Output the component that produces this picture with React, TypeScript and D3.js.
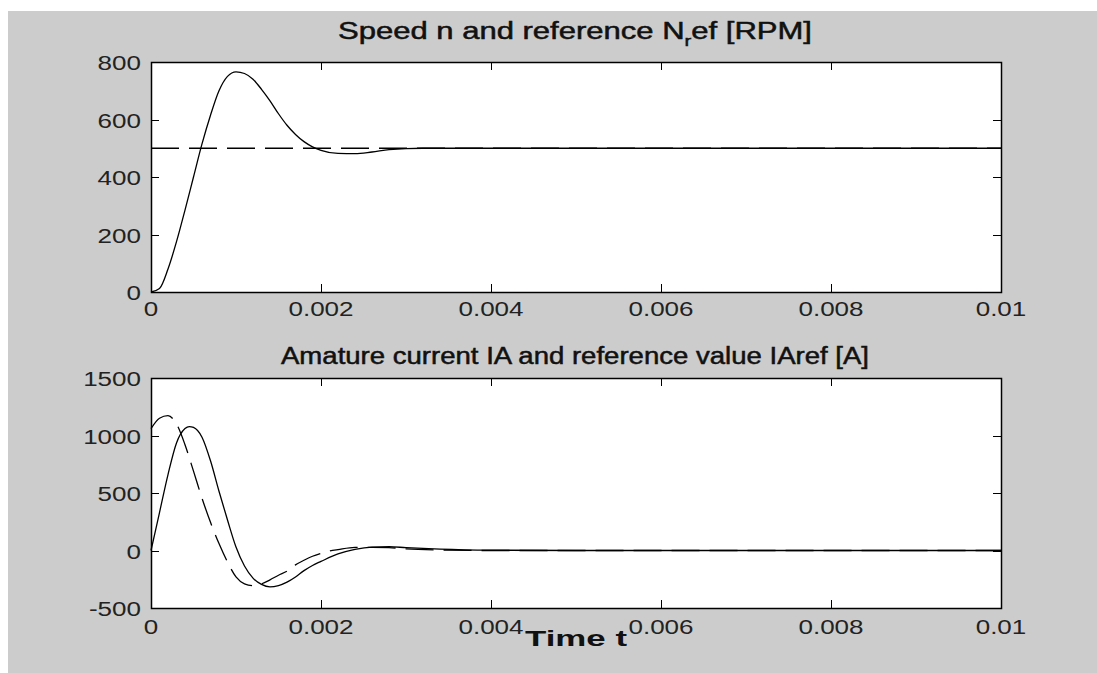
import React, { useEffect, useRef } from 'react';
import * as d3 from 'd3';

// time axis values are read in milliseconds, converted to seconds when drawn
const speedTimeMs = [0, 0.1, 0.2, 0.3, 0.4, 0.5, 0.6, 0.7, 0.8, 0.9, 1.0, 1.1, 1.2, 1.3, 1.4, 1.5, 1.6, 1.7, 1.8, 1.9, 2.0, 2.2, 2.4, 2.6, 2.8, 3.0, 3.2, 4.0, 6.0, 8.0, 10.0];
const speedValues = [0, 12, 80, 175, 285, 400, 515, 615, 700, 750, 766, 760, 740, 705, 665, 620, 580, 548, 523, 505, 493, 482, 481, 487, 495, 499, 500, 500, 500, 500, 500];
const speedRefTimeMs = [0, 10];
const speedRefValues = [500, 500];

const currentTimeMs = [0, 0.1, 0.2, 0.3, 0.4, 0.45, 0.5, 0.6, 0.7, 0.8, 0.9, 1.0, 1.1, 1.2, 1.3, 1.4, 1.5, 1.6, 1.7, 1.8, 1.9, 2.0, 2.2, 2.4, 2.6, 2.8, 3.0, 3.4, 4.0, 5.0, 10.0];
const currentValues = [0, 330, 660, 935, 1060, 1078, 1070, 985, 780, 515, 265, 30, -135, -240, -295, -317, -305, -275, -230, -175, -130, -95, -30, 10, 30, 33, 25, 12, 3, 0, 0];
const currentRefTimeMs = [0, 0.1, 0.2, 0.3, 0.4, 0.5, 0.6, 0.7, 0.8, 0.9, 1.0, 1.1, 1.2, 1.3, 1.4, 1.5, 1.6, 1.7, 1.8, 1.9, 2.0, 2.1, 2.2, 2.4, 2.6, 2.8, 3.0, 3.4, 4.0, 10.0];
const currentRefValues = [1060, 1150, 1172, 1100, 920, 690, 455, 245, 60, -100, -230, -290, -305, -290, -255, -215, -180, -125, -85, -50, -25, -5, 8, 28, 28, 25, 15, 5, 0, 0];

const xTicks = [0, 0.002, 0.004, 0.006, 0.008, 0.01];
const xTickLabels = ['0', '0.002', '0.004', '0.006', '0.008', '0.01'];
const speedTicks = [0, 200, 400, 600, 800];
const currentTicks = [-500, 0, 500, 1000, 1500];

const W = 1097;
const H = 673;
const FONT = '"Liberation Sans", Arial, sans-serif';

// the screenshot is stretched sideways, so widen the text to match
const widen = (sel, factor) => {
  sel.each(function () {
    const w = this.getComputedTextLength();
    d3.select(this).attr('textLength', w * factor).attr('lengthAdjust', 'spacingAndGlyphs');
  });
};

const App = () => {
  const ref = useRef<SVGSVGElement>(null);

  useEffect(() => {
    const svg = d3.select(ref.current);
    svg.selectAll('*').remove();

    svg.append('rect')
      .attr('x', 8).attr('y', 11)
      .attr('width', W - 8).attr('height', H - 11)
      .attr('fill', '#cccccc');

    const drawPanel = (opts) => {
      const { top, bottom, yDomain, yTicks, series, title, titleLen, titleY, xLabelDy } = opts;
      const x = d3.scaleLinear().domain([0, 0.01]).range([151, 1001]);
      const y = d3.scaleLinear().domain(yDomain).range([bottom, top]);
      const g = svg.append('g');

      g.append('rect')
        .attr('x', 151).attr('y', top)
        .attr('width', 850).attr('height', bottom - top)
        .attr('fill', '#ffffff');

      const line = d3.line<[number, number]>()
        .x((d) => x(d[0] / 1000))
        .y((d) => y(d[1]))
        .curve(d3.curveMonotoneX);

      series.forEach((s) => {
        g.append('path')
          .datum(s.t.map((t, i) => [t, s.v[i]]))
          .attr('d', line)
          .attr('fill', 'none')
          .attr('stroke', '#000')
          .attr('stroke-width', 1.3)
          .attr('stroke-dasharray', s.dashed ? '28,10' : null);
      });

      // inward ticks on all four sides
      const tl = 8;
      xTicks.forEach((t, i) => {
        const px = Math.round(x(t)) + 0.5;
        g.append('line').attr('x1', px).attr('x2', px).attr('y1', bottom).attr('y2', bottom - tl).attr('stroke', '#000');
        g.append('line').attr('x1', px).attr('x2', px).attr('y1', top).attr('y2', top + tl).attr('stroke', '#000');
        const lbl = g.append('text')
          .attr('x', x(t)).attr('y', bottom + xLabelDy)
          .attr('text-anchor', 'middle')
          .attr('font-family', FONT).attr('font-size', 20)
          .attr('fill', '#222')
          .text(xTickLabels[i]);
        widen(lbl, 1.3);
      });
      yTicks.forEach((t) => {
        const py = Math.round(y(t)) + 0.5;
        g.append('line').attr('x1', 151).attr('x2', 151 + tl).attr('y1', py).attr('y2', py).attr('stroke', '#000');
        g.append('line').attr('x1', 1001).attr('x2', 1001 - tl).attr('y1', py).attr('y2', py).attr('stroke', '#000');
        const lbl = g.append('text')
          .attr('x', 141).attr('y', y(t) + 8)
          .attr('text-anchor', 'end')
          .attr('font-family', FONT).attr('font-size', 20)
          .attr('fill', '#222')
          .text(t);
        widen(lbl, 1.3);
      });

      g.append('rect')
        .attr('x', 151.5).attr('y', top + 0.5)
        .attr('width', 850).attr('height', bottom - top)
        .attr('fill', 'none')
        .attr('stroke', '#000')
        .attr('stroke-width', 1.5);

      const tt = g.append('text')
        .attr('x', 575).attr('y', titleY)
        .attr('text-anchor', 'middle')
        .attr('font-family', FONT).attr('font-size', 23)
        .attr('fill', '#111')
        .attr('stroke', '#111')
        .attr('stroke-width', 0.5)
        .attr('textLength', titleLen)
        .attr('lengthAdjust', 'spacingAndGlyphs');
      title(tt);
    };

    drawPanel({
      top: 62,
      bottom: 292,
      yDomain: [0, 800],
      yTicks: speedTicks,
      xLabelDy: 24,
      series: [
        { t: speedRefTimeMs, v: speedRefValues, dashed: true },
        { t: speedTimeMs, v: speedValues, dashed: false },
      ],
      titleLen: 474,
      titleY: 39,
      title: (tt) => {
        tt.append('tspan').text('Speed n and reference N');
        tt.append('tspan').attr('font-size', 15).attr('dy', 7).text('r');
        tt.append('tspan').attr('dy', -7).text('ef [RPM]');
      },
    });

    drawPanel({
      top: 378,
      bottom: 608,
      yDomain: [-500, 1500],
      yTicks: currentTicks,
      xLabelDy: 26,
      series: [
        { t: currentRefTimeMs, v: currentRefValues, dashed: true },
        { t: currentTimeMs, v: currentValues, dashed: false },
      ],
      titleLen: 588,
      titleY: 364,
      title: (tt) => {
        tt.text('Amature current IA and reference value IAref [A]');
      },
    });

    svg.append('text')
      .attr('x', 576).attr('y', 646)
      .attr('text-anchor', 'middle')
      .attr('font-family', FONT).attr('font-size', 22)
      .attr('font-weight', 'bold')
      .attr('fill', '#111')
      .attr('textLength', 102)
      .attr('lengthAdjust', 'spacingAndGlyphs')
      .text('Time t');
  }, []);

  return (
    <svg
      ref={ref}
      width={W}
      height={H}
      style={{ position: 'absolute', left: 0, top: 0, background: '#fff' }}
    />
  );
};

export default App;
